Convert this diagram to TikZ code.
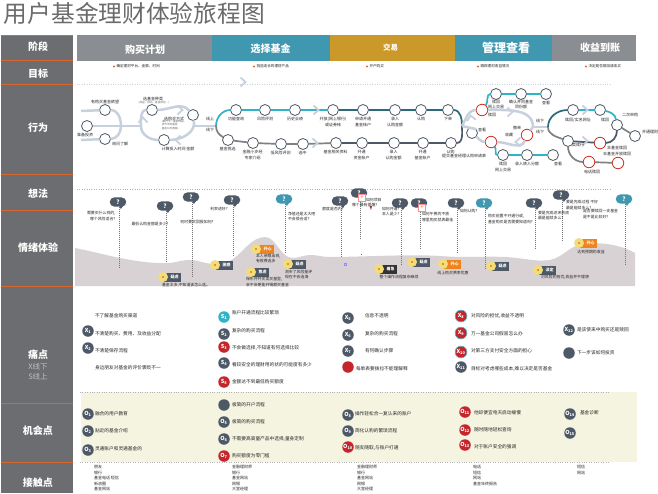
\documentclass[tikz,border=0pt]{standalone}
\usepackage{fontspec}
\setmainfont{Noto Sans CJK SC}
\definecolor{railgray}{HTML}{6C6D70}
\definecolor{stagegray}{HTML}{8A8D92}
\definecolor{stageteal}{HTML}{3F97B0}
\definecolor{stagegold}{HTML}{CB982A}
\definecolor{rule}{HTML}{D9662F}
\definecolor{slate}{HTML}{4D5966}
\definecolor{pale}{HTML}{C6D1DD}
\definecolor{tealline}{HTML}{2FB3C6}
\definecolor{redmark}{HTML}{C4262B}
\definecolor{hill}{HTML}{D9D2D5}
\definecolor{band}{HTML}{F5F4E1}
\definecolor{tagorange}{HTML}{EE8420}
\definecolor{halo}{HTML}{F2DD78}
\tikzset{
  every node/.style={inner sep=0pt,outer sep=0pt},
  tiny text/.style={font=\fontsize{4}{5.4}\selectfont,text=black!85,align=center},
  wee text/.style={font=\fontsize{2.6}{3.2}\selectfont,text=black!60,align=left},
  body text/.style={font=\fontsize{4.7}{6}\selectfont,text=black!85,anchor=west},
  thought text/.style={font=\fontsize{3.9}{5.2}\selectfont,text=black!85,align=left},
  rail label/.style={font=\fontsize{10}{11}\selectfont\bfseries,text=white},
  stop/.style={circle,draw=slate,fill=white,line width=0.8pt,minimum size=11pt},
  redstop/.style={circle,draw=redmark!85!orange,fill=white,line width=0.8pt,minimum size=11.5pt},
  paleline/.style={draw=pale,line width=2.5pt},
  tealrun/.style={draw=tealline,line width=1.7pt},
  deeprun/.style={draw=stageteal!70!black,line width=1.7pt},
  grayrun/.style={draw=black!50,line width=1.7pt},
  slaterun/.style={draw=slate,line width=1.7pt},
  chevron/.style={draw=pale,line width=1.8pt,fill=none},
  pin/.style={circle,minimum size=11.5pt,text=white,font=\fontsize{5.5}{6}\selectfont\bfseries},
  bubble/.style={rounded corners=4.6pt,minimum width=16.5pt,minimum height=9.2pt,text=white,font=\fontsize{6}{6}\selectfont\bfseries},
  tagbox/.style={minimum width=18pt,minimum height=9pt,text=white,font=\fontsize{4}{5}\selectfont\bfseries,anchor=west},
  probe/.style={line width=0.7pt,draw=black!55,dash pattern=on 1pt off 1pt},
  proberisk/.style={probe,draw=redmark!80},
  sep/.style={line width=0.5pt,draw=black!30,dash pattern=on 1pt off 1.4pt},
}
\newcommand{\chev}[3]{\draw[chevron,shift={(#1,#2)},rotate=#3] (-2.5pt,-4.5pt)--(2.5pt,0pt)--(-2.5pt,4.5pt);}
\newcommand{\ask}[4]{% name, x, y, colour: a thought bubble with its tail
  \node[bubble,fill=#4] (#1) at (#2,#3) {?};
  \fill[#4] (#1.south east) ++(-7pt,1.5pt) -- ++(4.5pt,0) -- ++(-3pt,-4pt) -- cycle;}
\newcommand{\feel}[5]{% name, x, y, fill, word: an emotion tag with a glowing dot
  \node[tagbox,fill=#4] (#1) at (#2,#3) {\hspace*{5pt}#5};
  \node[circle,fill=halo,minimum size=10pt] (#1h) at (#2,#3) {};
  \node[circle,fill=redmark!70!orange,minimum size=1.8pt] (#1d) at (#2,#3) {};}
\begin{document}
\begin{tikzpicture}[x=1pt,y=-1pt]
\useasboundingbox (0,0) rectangle (658,493);
\fill[white] (0,0) rectangle (658,493);

% Title
\node[font=\fontsize{23.7}{25}\selectfont,text=black!58,anchor=west] (title) at (4,13.5) {用户基金理财体验旅程图};

% Left rail with orange dividers
\fill[railgray] (1,35) rectangle (73,493);
\foreach \y in {35,60.5,84.5,174.5,210,286,403,462}
  \draw[rule,line width=0.8pt] (1,\y) -- (73,\y);
\foreach \n/\y/\t in {ra/47/阶段,rb/74/目标,rc/128/行为,rd/194/想法,re/248/情绪体验,rf/355/痛点,rg/431/机会点,rh/483/接触点}
  \node[rail label] (\n) at (38,\y) {\t};
\node[font=\fontsize{7.5}{9}\selectfont,text=white!75!black] (ri) at (38,367) {X线下};
\node[font=\fontsize{7.5}{9}\selectfont,text=white!75!black] (rj) at (38,377) {S线上};

% Stage bar
\fill[stagegray] (77,35) rectangle (212,60.5);
\fill[stageteal] (212,35) rectangle (330,60.5);
\fill[stagegold] (330,35) rectangle (455,60.5);
\fill[stageteal] (455,35) rectangle (552,60.5);
\fill[stagegray] (552,35) rectangle (636,60.5);
\node[font=\fontsize{10}{11}\selectfont\bfseries,text=white] (s1) at (145,49.5) {购买计划};
\node[font=\fontsize{10}{11}\selectfont\bfseries,text=white] (s2) at (270.5,49) {选择基金};
\node[font=\fontsize{7.5}{8}\selectfont\bfseries,text=white] (s3) at (390.5,48) {交易};
\node[font=\fontsize{12}{13}\selectfont\bfseries,text=white] (s4) at (506,48) {管理查看};
\node[font=\fontsize{10}{11}\selectfont\bfseries,text=white] (s5) at (600,47.5) {收益到账};

% Goals
\foreach \n/\x/\t in {g1/114/确定理财平台、金额、时间,g2/254/挑选适合的理财产品,g3/367/开户购买,g4/478/跟踪理财收益情况,g5/586/决定是否赎回或续买}{
  \fill[rule] (\x,66.5) circle (1.1pt);
  \node[font=\fontsize{3.6}{4}\selectfont,text=black!85,anchor=west] (\n) at (\x+2.5,66.5) {\t};
}

% Section separators
\fill[band] (81,392) rectangle (637,462);
\draw[sep,draw=pale] (77,84.5) -- (610,84.5);
\draw[sep] (77,189) -- (610,189);
\draw[sep] (80,392) -- (610,392);
\draw[sep] (80,462.5) -- (610,462.5);
\chev{243}{82}{0}

% Behaviour: planning network
\node[stop] (a1) at (105,110) {};
\node[stop] (a2) at (87,126) {};
\node[stop] (a3) at (105,139) {};
\node[stop] (b1) at (152,110) {};
\node[stop] (b2) at (193,115) {};
\node[stop] (b3) at (164,140) {};
\coordinate (stub1) at (81,111);
\coordinate (stub3) at (81,140);
\coordinate (hub) at (121,126);
\coordinate (loopw) at (141,126);
\coordinate (jn) at (216,126);
\draw[paleline] (stub1) -- (a1);
\draw[paleline] (stub3) -- (a3);
\draw[paleline] (a1.east) to[out=0,in=90] (hub);
\draw[paleline] (a3.east) to[out=0,in=-90] (hub);
\draw[paleline] (a2) -- (loopw);
\draw[paleline] (loopw) to[out=90,in=180] (b1);
\draw[paleline] (b1) to[out=0,in=130] (b2);
\draw[paleline] (b2) to[out=-80,in=0] (b3);
\draw[paleline] (b3) to[out=180,in=-90] (loopw);
\draw[paleline] (193,126) -- (jn);
\chev{180}{110}{0}
\chev{178}{140}{180}
\chev{143}{120}{90}

\node[tiny text] (ta1) at (105,102) {有购买基金欲望};
\node[tiny text] (ta2) at (85,135) {准备投资};
\node[tiny text] (ta3) at (120,144) {询问了解};
\node[tiny text] (tb1) at (153,98.5) {选基金种类};
\node[wee text] (tb1s) at (154,103) {(收益、排名、基金类别…)};
\node[tiny text] (tb2) at (174,118.5) {选购买方式};
\node[wee text] (tb2s) at (174,125) {(银行卡、基金网站、\\货币市场基金\\基金公司直销)};
\node[tiny text] (tb3) at (178,149) {计算投入时间 金额};
\node[tiny text] (tl1) at (210,119) {线上};
\node[tiny text] (tl2) at (210,130) {线下};

% Behaviour: online and offline selection rows
\foreach \n/\x/\t in {c1/236/功能查询,c2/265/风险评测,c3/295/历史业绩,c4/333/开放(网上银行)\\或证券帐,c5/363/申请开通\\基金帐户,c6/395/录入\\认购金额,c7/421/认购,c8/448/下单}{
  \node[stop] (\n) at (\x,110) {};
  \node[tiny text,anchor=north] (\n t) at (\x,117.5) {\t};
}
\foreach \n/\x/\y/\t in {d1/228/140/基金挑选,d2/253/143/金融小步经\\专家介绍,d3/281/144/低风险评测,d4/303/144/选中,d5/336/143/基金相关资料,d6/362/143/开通\\资金帐户,d7/394/143/录入\\认购金额,d8/423/143/开通\\基金帐户,d9/451/143/认购}{
  \node[stop] (\n) at (\x,\y) {};
  \node[tiny text,anchor=north] (\n t) at (\x-0.5,\y+7.5) {\t};
}
\node[tiny text,anchor=west] (d9x) at (442,156) {提交基金经理认购申请表};
\draw[tealrun] (jn) to[out=90,in=180] (c1);
\draw[grayrun] (jn) to[out=-90,in=150] (d1);
\foreach \p/\q in {c1/c2,c2/c3,c3/c4}
  \draw[tealrun] (\p) -- (\q);
\foreach \p/\q in {c4/c5,c5/c6,c6/c7,c7/c8}
  \draw[deeprun] (\p) -- (\q);
\foreach \p/\q in {d1/d2,d2/d3,d3/d4,d4/d5}
  \draw[grayrun] (\p) -- (\q);
\foreach \p/\q in {d5/d6,d6/d7,d7/d8,d8/d9}
  \draw[slaterun] (\p) -- (\q);
\chev{316}{110}{0}
\chev{315}{143}{0}

% Behaviour: holding and review loop
\coordinate (jm) at (462,126);
\draw[deeprun] (c8) to[out=0,in=90] (jm);
\draw[slaterun] (d9) to[out=0,in=-90] (jm);
\node[stop] (e1) at (496,94) {};
\node[stop] (e2) at (521,94) {};
\node[stop] (e3) at (546,94) {};
\node[redstop] (e4) at (482,110) {};
\node[stop] (e5) at (472,133) {};
\node[redstop] (e6) at (491,142) {};
\node[redstop] (e7) at (527,135) {};
\node[stop] (e8) at (503,155) {};
\node[stop] (e9) at (527,155) {};
\node[stop] (e10) at (553,155) {};
\coordinate (loope) at (533,127);
\coordinate (jr) at (548,127);
\draw[paleline] (jm) -- (e5.north east);
\draw[paleline] (jm) to[out=60,in=180] (e4);
\draw[paleline] (e4) to[out=0,in=90] (loope);
\draw[paleline] (loope) -- (e7);
\draw[paleline] (e7) to[out=-110,in=0] (e6);
\draw[paleline] (e6) to[out=180,in=-40] (e5);
\draw[paleline] (loope) -- (jr);
\chev{471}{118}{100}
\chev{510}{112}{0}
\chev{518}{142}{180}
\draw[tealrun] (e4) to[out=50,in=180] (e1);
\draw[tealrun] (e1) -- (e2);
\draw[tealrun] (e2) -- (e3);
\draw[tealrun] (e6) to[out=-50,in=180] (e8);
\draw[tealrun] (e8) -- (e9);
\draw[tealrun] (e9) -- (e10);
\node[tiny text] (te1) at (496,104.5) {赎回\\网上交易};
\node[tiny text] (te2) at (521,104.5) {确认并同基金\\同份额};
\node[tiny text] (te3) at (546,103) {查看};
\node[tiny text] (te4) at (492,115) {赎回};
\node[tiny text] (te5) at (482,130) {查看};
\node[tiny text] (te6) at (509,135) {收藏};
\node[tiny text] (te7) at (517,128) {撤单};
\node[tiny text] (te8) at (503,167) {赎回\\网上交易};
\node[tiny text] (te9) at (527,164) {录入转入分额};
\node[tiny text] (te10) at (558,164) {查看};
\node[tiny text] (tl3) at (540,121) {线下};
\node[tiny text] (tl4) at (540,132) {线下};

% Behaviour: redemption branch
\node[stop] (f1) at (573,110) {};
\node[stop] (f2) at (600,110) {};
\node[stop] (f3) at (617,125) {};
\node[stop] (f4) at (635,136) {};
\node[stop] (f5) at (568,141) {};
\node[redstop] (f6) at (600,143) {};
\node[redstop] (f7) at (589,162) {};
\node[redstop] (f8) at (618,163) {};
\draw[deeprun] (jr) to[out=90,in=180] (f1);
\draw[tealrun] (f1) -- (f2);
\draw[tealrun] (f2) to[out=-10,in=100] (f3);
\draw[grayrun] (jr) to[out=-90,in=160] (f5);
\draw[slaterun] (f5) -- (f6);
\draw[slaterun] (f6) to[out=0,in=-90] (f3);
\draw[grayrun] (f3) -- (f4);
\draw[grayrun] (f5) to[out=-90,in=180] (f7);
\draw[grayrun] (f7) -- (f8);
\chev{585}{110}{0}
\chev{585}{141}{0}
\node[tiny text] (tf1) at (578,120) {赎回/实名网址};
\node[tiny text] (tf2) at (605,120) {赎回};
\node[tiny text] (tf3) at (630,115) {二次申购};
\node[tiny text] (tf4) at (650,132) {开通理财};
\node[tiny text] (tf5) at (578,145) {卖赎行};
\node[tiny text] (tf6) at (617,151) {丰基金赎回\\丰基金开放赎回};
\node[tiny text] (tf7) at (592,172) {电话赎回};

% Emotion curve
\fill[hill] (75,248) .. controls (95,252) and (105,255) .. (120,258)
  .. controls (135,261) and (155,264) .. (170,263)
  .. controls (178,262) and (182,260) .. (190,260)
  .. controls (198,260) and (205,264) .. (215,264)
  .. controls (224,264) and (228,262) .. (233,259)
  .. controls (243,252) and (252,237) .. (265,237)
  .. controls (276,237) and (280,257) .. (292,258)
  .. controls (300,258) and (303,255) .. (310,255)
  .. controls (318,255) and (322,257) .. (330,257)
  .. controls (360,257) and (410,254) .. (440,256)
  .. controls (465,258) and (485,256) .. (505,257)
  .. controls (525,258) and (535,262) .. (550,260)
  .. controls (565,257) and (570,243) .. (590,243)
  .. controls (610,243) and (625,247) .. (635,253)
  -- (635,286) -- (75,286) -- cycle;

% Emotion probes and thought bubbles
\foreach \n/\x/\y/\e/\s/\c in {q1/118/202/267/probe/slate,q2/165/206/262/probe/slate,q3/191/197/276/probe/slate,q4/232/200/256/probe/slate,q5/284/199/252/proberisk/stageteal,q6/340/201/256/probe/slate,q7/359/193/238/probe/slate,q8/400/203/265/probe/slate,q9/419/203/249/probe/slate,q10/456/203/252/probe/slate,q11/484/203/268/proberisk/stageteal,q12/534/203/249/probe/slate,q13/561/195/240/probe/slate,q14/624/199/265/proberisk/stageteal}{
  \coordinate (\n foot) at (\x+1,\e);
  \ask{\n}{\x}{\y}{\c}
  \draw[\s] (\n.south -| \n foot) -- (\n foot);
}
\draw[probe] (361,254) -- (361,256);
\draw[blue!45,line width=0.4pt] (344,263) rectangle (346,265);
\foreach \n/\x/\y in {pl1/362/198,pl2/422/208}{
  \node[draw=red!45,fill=white,line width=0.6pt,minimum size=6.5pt,text=red!60,font=\fontsize{6}{6}\selectfont] (\n) at (\x,\y) {+};
}
\fill[redmark] (369.5,206) -- (372,206) -- (371,210) -- cycle;

\node[thought text,anchor=west] (h1) at (87,216) {需要买什么样的,\\\hspace*{3pt}哪个风险适合?};
\node[thought text] (h2) at (150,224.5) {最低认购金额是多少?};
\node[thought text] (h3) at (197,222) {何时要买回报如何?};
\node[thought text] (h4) at (219,209.5) {利率进好?};
\node[thought text,anchor=west] (h5) at (288,216.5) {净值还是太大吧\\不会很合适?};
\node[thought text] (h6) at (333,209.5) {额度是否内?};
\node[thought text,anchor=west] (h7) at (352,202.5) {\hspace*{14pt}如何项目\\哪个最有提醒?};
\node[thought text,anchor=west] (h8) at (382,211.5) {如何开通?\\本人是少?};
\node[thought text,anchor=west] (h9) at (422,217) {如何午费的不放\\哪里购买就表最佳};
\node[thought text,anchor=west] (h10) at (460,211) {如何认购?};
\node[thought text,anchor=west] (h11) at (488,219) {购买前置不开通行或,\\基金购买是否需要知道吗?};
\node[thought text,anchor=west] (h12) at (538,215.5) {要是完成述来到底\\最是能赎多么?};
\node[thought text,anchor=west] (h13) at (566,205) {要是完成过程 不好\\最是能赎多么?};
\node[thought text,anchor=west] (h14) at (583,214) {是否要赎回一支基金\\是不是比较好?};

% Emotion tags
\feel{m1}{163}{277}{slate}{疑虑}
\feel{m2}{215}{265}{slate}{困惑}
\feel{m3}{256}{249}{tagorange}{开心}
\feel{m4}{251}{272}{slate}{焦虑}
\feel{m5}{288}{264}{slate}{疑虑}
\feel{m6}{379}{269}{black!80}{着急}
\feel{m7}{412}{262}{slate}{疑虑}
\feel{m8}{443}{264}{tagorange}{开心}
\feel{m9}{491}{266}{slate}{疑虑}
\feel{m10}{538}{270}{slate}{淡定}
\feel{m11}{579}{243}{tagorange}{开心}
\node[thought text] (n1) at (186,285) {基金太多,不知道该怎么选。};
\node[thought text,anchor=west] (n2) at (256,258.5) {本人亲眼出现,\\有很费选多};
\node[thought text,anchor=west] (n3) at (246,282) {保形并并买卖买基里,\\会不会更能开销额买基金};
\node[thought text,anchor=west] (n4) at (285,274.5) {测市了风险能评\\现在不会连海};
\node[thought text] (n5) at (399,277) {整个操作流程复杂麻烦};
\node[thought text] (n6) at (453,273) {线上购买费率优惠};
\node[thought text] (n7) at (565,277) {对风险的担忧,收益并不理想};
\node[thought text] (n8) at (591,252) {达到预期的收益};

% Pain points
\foreach \n/\x/\y/\c/\l in {x1/88/331/slate/X\textsubscript{1},x2/88/348/slate/X\textsubscript{2},
  y1/224/317/tealline/S\textsubscript{1},y2/224/334/slate/S\textsubscript{2},y3/224/347/redmark/S\textsubscript{3},y4/224/363/slate/S\textsubscript{4},y5/224/382/redmark/S\textsubscript{5},
  x5/348/318/slate/X\textsubscript{5},x6/348/335/slate/X\textsubscript{6},x7/348/351/slate/X\textsubscript{7},x8/348/367/redmark/{},
  x9/461/316/redmark/X\textsubscript{8},x10/461/333/redmark/X\textsubscript{9},x11/461/352/redmark/X\textsubscript{10},x12/461/367/slate/X\textsubscript{11},
  x13/569/330/slate/X\textsubscript{12},x14/569/353/slate/{}}
  \node[pin,fill=\c] (\n) at (\x,\y) {\l};
\foreach \n in {x9,x10,x11}
  \draw[tealline,line width=0.5pt] (\n) circle (6pt);
\foreach \n/\x/\y/\t in {
  pa1/95/316/不了解基金购买渠道,pa2/95/334/不清楚购买、费用、及收益分配,pa3/95/351/不清楚保存流程,pa4/95/368/身边朋友对基金的评价褒贬不一,
  pb1/232/313/账户开通流程比较繁琐,pb2/232/331/复杂的购买流程,pb3/232/348/{不会做选择,不知道有何选择比较},pb4/232/365/看较安全的理财用的状的可能度有多少,pb5/232/382/金额达不到最低购买额度,
  pc1/365/316/信息不透明,pc2/365/334/复杂的购买流程,pc3/365/351/有何确认步骤,pc4/356/369/每单表要拨拉不能理解释,
  pd1/471/316/{对风险的担忧,收益不透明},pd2/471/334/万一基金公司假冒怎么办,pd3/471/351/对第三方支付安全方面的担心,pd4/471/369/{目标对考虑哪些成本,难以决定是否基金},
  pe1/577/330/是该使来中购买还是赎回,pe2/577/353/下一步该如何投资}
  \node[body text] (\n) at (\x,\y) {\t};

% Opportunities
\foreach \n/\x/\y/\c/\l in {o1/88/414/slate/O\textsubscript{1},o2/88/431/slate/O\textsubscript{2},o3/88/450/slate/O\textsubscript{3},
  o4/224/405/slate/{},o5/224/422/slate/O\textsubscript{5},o6/224/439/slate/O\textsubscript{6},o7/224/456/redmark/O\textsubscript{7},
  o8/348/415/slate/O\textsubscript{8},o9/348/431/slate/O\textsubscript{9},o10/348/447/redmark/O\textsubscript{10},
  o11/465/412/redmark/O\textsubscript{11},o12/465/430/redmark/O\textsubscript{12},o13/465/445/redmark/O\textsubscript{13},
  o14/570/414/slate/O\textsubscript{14},o15/570/433/slate/O\textsubscript{15}}
  \node[pin,fill=\c] (\n) at (\x,\y) {\l};
\foreach \n/\x/\y/\t in {
  qa1/95/414/融合的用户教育,qa2/95/431/贴近的基金介绍,qa3/95/449/灵通账户和灵通基金的,
  qb1/232/405/极简的开户流程,qb2/232/422/极简的购买流程,qb3/232/439/{不需要高高量产品中选择,量身定制},qb4/232/456/购买额度为零门槛,
  qc1/355/414/操作轻松合一复认来的账户,qc2/355/431/简化认购的繁琐流程,qc3/355/448/{随支随取,与账户打通},
  qd1/474/413/他却便宜电天启动缓慢,qd2/474/430/随时随地轻松查询,qd3/474/447/对于账户安全的强调,
  qe1/580/413/基金诊断}
  \node[body text] (\n) at (\x,\y) {\t};

% Touchpoints
\node[tiny text,align=left,anchor=north west] (u1) at (94,465.5) {朋友\\银行\\基金电话 短信\\新浪圈\\基金网站};
\node[tiny text,align=left,anchor=north west] (u2) at (232,465.5) {金融理财师\\银行\\基金网站\\网银\\大堂经理};
\node[tiny text,align=left,anchor=north west] (u3) at (357,465.5) {金融理财师\\银行\\基金网站\\网银\\大堂经理};
\node[tiny text,align=left,anchor=north west] (u4) at (473,465.5) {电话\\短信\\网站\\基金年终报告};
\node[tiny text,align=left,anchor=north west] (u5) at (577,465.5) {短信\\网站};
\end{tikzpicture}
\end{document}
